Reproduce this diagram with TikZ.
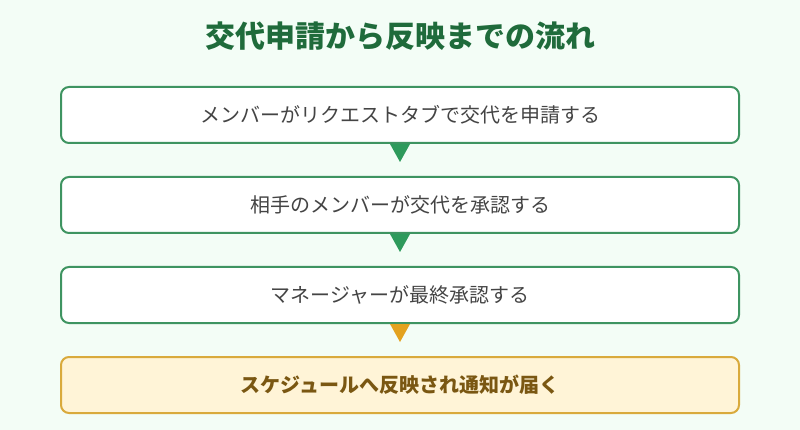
\documentclass[tikz,border=0pt]{standalone}
\usepackage{fontspec}
\setmainfont{Noto Sans CJK JP}
\usetikzlibrary{positioning}

\definecolor{bgmint}{HTML}{F3FDF6}
\definecolor{titlegreen}{HTML}{1F6B3B}
\definecolor{boxgreen}{HTML}{3E9461}
\definecolor{trigreen}{HTML}{2E9A5C}
\definecolor{bodygray}{HTML}{444444}
\definecolor{boxgold}{HTML}{D9AA3C}
\definecolor{goldfill}{HTML}{FFF4D7}
\definecolor{goldtext}{HTML}{7A5712}
\definecolor{trigold}{HTML}{E3A21F}

\tikzset{
  stepbox/.style={draw=boxgreen, line width=2pt, rounded corners=8pt, fill=white,
    minimum width=678pt, minimum height=56pt, text=bodygray,
    font=\fontsize{20}{24}\selectfont},
  lastbox/.style={stepbox, draw=boxgold, fill=goldfill, text=goldtext,
    font=\fontsize{20}{24}\selectfont\bfseries},
  flowtri/.style={fill=trigreen},
}

\begin{document}
\begin{tikzpicture}[x=1pt, y=-1pt]
  % background and frame
  \fill[bgmint] (0,0) rectangle (800,430);
  \useasboundingbox (0,0) rectangle (800,430);

  % title
  \node[text=titlegreen, font=\fontsize{30}{34}\selectfont\bfseries] (title) at (400,36) {交代申請から反映までの流れ};

  % steps
  \node[stepbox] (apply) at (400,115) {メンバーがリクエストタブで交代を申請する};
  \node[stepbox, below=32pt of apply] (partner) {相手のメンバーが交代を承認する};
  \node[stepbox, below=32pt of partner] (manager) {マネージャーが最終承認する};
  \node[lastbox, below=32pt of manager] (notice) {スケジュールへ反映され通知が届く};

  % arrows between steps
  \foreach \from in {apply, partner}{
    \fill[flowtri] ([xshift=-10pt]\from.south) -- ([xshift=10pt]\from.south)
      -- ([yshift=-18pt]\from.south) -- cycle;
  }
  \fill[flowtri, fill=trigold] ([xshift=-10pt]manager.south) -- ([xshift=10pt]manager.south)
    -- ([yshift=-18pt]manager.south) -- cycle;
\end{tikzpicture}
\end{document}
